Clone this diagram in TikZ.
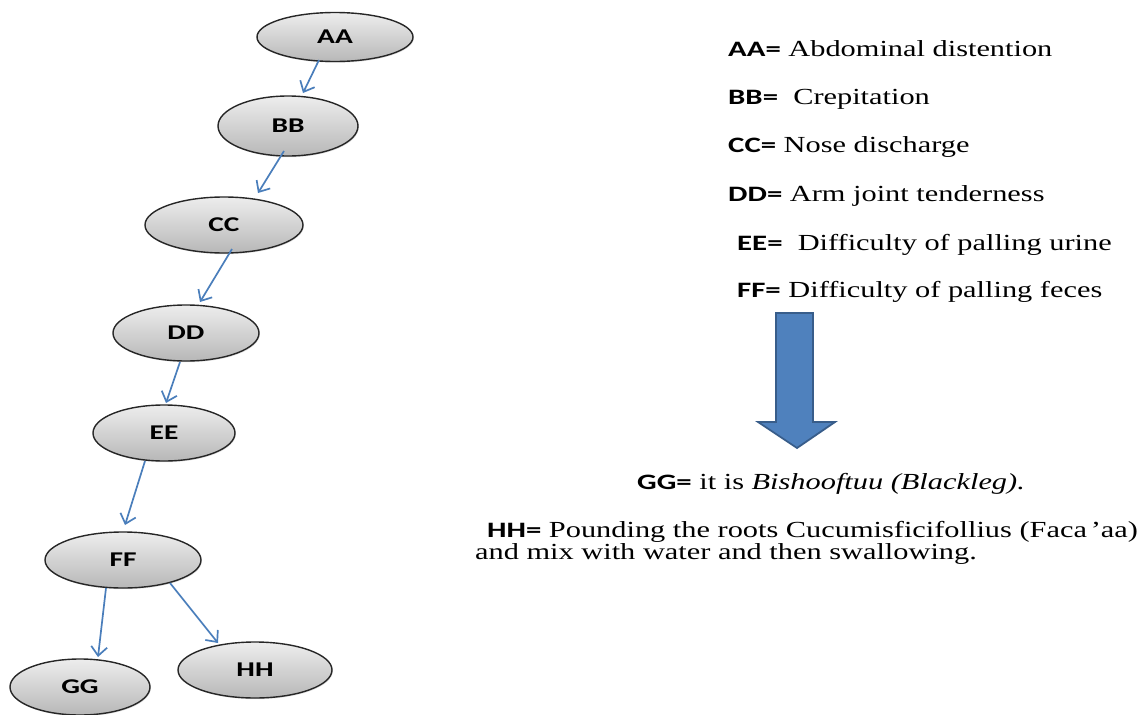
\documentclass[tikz,border=0pt]{standalone}
\usepackage{fontspec}
\setmainfont{Liberation Serif}[FakeStretch=1.32]
\newfontfamily\lab{Carlito}[FakeStretch=1.4]
\usetikzlibrary{shapes.geometric,arrows.meta,calc,shadows}

\definecolor{linkblue}{HTML}{4A7EBB}
\definecolor{arrowfill}{HTML}{4F81BD}
\definecolor{arrowedge}{HTML}{385D8A}

\tikzset{
  sym/.style={ellipse, draw=black!85, line width=1.4pt, inner sep=0pt,
    top color=white!93!black, bottom color=white!72!black,
    drop shadow={opacity=0.25, shadow xshift=0.8pt, shadow yshift=-1.2pt},
    font=\lab\bfseries\fontsize{21}{25}\selectfont},
  conn/.style={draw=linkblue, line width=1.7pt,
    -{Straight Barb[length=9pt,width=16pt,line width=1.7pt]}},
  legend/.style={anchor=base west, inner sep=0pt,
    font=\fontsize{23}{28}\selectfont}
}
\newcommand{\keyt}[1]{{\lab\bfseries\fontsize{22}{26}\selectfont #1}}

\begin{document}
\begin{tikzpicture}[x=1pt,y=-1pt]
\useasboundingbox (0,0) rectangle (1141,715);

% symptom chain
\node[sym, minimum width=156pt, minimum height=49pt] (AA) at (335,37)  {AA};
\node[sym, minimum width=140pt, minimum height=60pt] (BB) at (288,126) {BB};
\node[sym, minimum width=158pt, minimum height=56pt] (CC) at (224,225) {CC};
\node[sym, minimum width=146pt, minimum height=56pt] (DD) at (186,333) {DD};
\node[sym, minimum width=142pt, minimum height=56pt] (EE) at (164,433) {EE};
\node[sym, minimum width=156pt, minimum height=56pt] (FF) at (123,560) {FF};
\node[sym, minimum width=140pt, minimum height=56pt] (GG) at (80,687)  {GG};
\node[sym, minimum width=154pt, minimum height=56pt] (HH) at (255,670) {HH};

\draw[conn] ($(AA)+(-16,23)$) -- ($(BB)+(15,-33)$);
\draw[conn] ($(BB)+(-4,25)$)  -- ($(CC)+(34,-32)$);
\draw[conn] ($(CC)+(8,24)$)   -- ($(DD)+(14,-31)$);
\draw[conn] ($(DD)+(-6,29)$)  -- ($(EE)+(2,-30)$);
\draw[conn] ($(EE)+(-19,28)$) -- ($(FF)+(2,-35)$);
\draw[conn] ($(FF)+(-17,28)$) -- ($(GG)+(18,-30)$);
\draw[conn] ($(FF)+(47,23)$)  -- ($(HH)+(-37,-27)$);

% legend
\node[legend] (lA) at (728,56)  {\keyt{AA=} Abdominal distention};
\node[legend] (lB) at (728,104) {\keyt{BB=}\ \ Crepitation};
\node[legend] (lC) at (728,152) {\keyt{CC=} Nose discharge};
\node[legend] (lD) at (728,201) {\keyt{DD=}\ Arm joint tenderness};
\node[legend] (lE) at (737,250) {\keyt{EE=}\ \ Difficulty of palling urine};
\node[legend] (lF) at (737,297) {\keyt{FF=} Difficulty of palling feces};

% block arrow
\draw[fill=arrowfill, draw=arrowedge, line width=1.8pt, line join=miter]
  (776,313) -- (813,313) -- (813,422) -- (835,422) -- (797,448)
  -- (758,422) -- (776,422) -- cycle;

% outcome
\node[legend] (lG) at (637,489) {\keyt{GG=} it is \textit{Bishooftuu (Blackleg).}};
\node[legend] (lH) at (487,537) {\keyt{HH=} Pounding the roots Cucumisficifollius (Faca\,’aa)};
\node[legend] (lH2) at (475,559) {and mix with water and then swallowing.};
\end{tikzpicture}
\end{document}
